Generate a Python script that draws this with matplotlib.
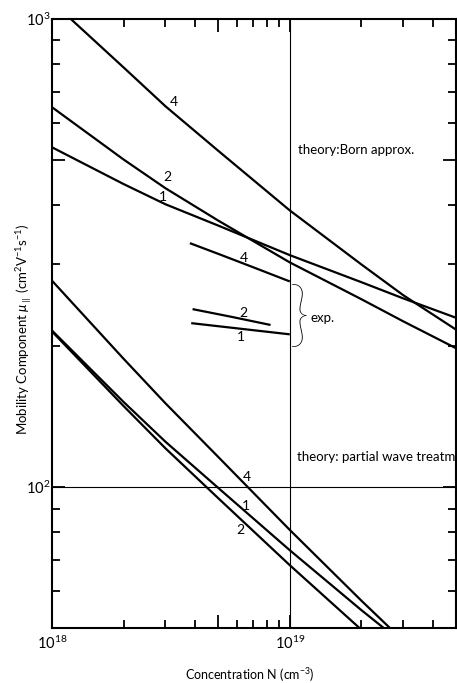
import matplotlib
matplotlib.use("Agg")
import matplotlib.pyplot as plt
from matplotlib.ticker import NullFormatter

plt.rcParams['font.family'] = ['Lato', 'DejaVu Sans']
plt.rcParams['mathtext.fontset'] = 'custom'
plt.rcParams['mathtext.rm'] = 'Lato'
plt.rcParams['mathtext.it'] = 'Lato:italic'

## theory: Born approximation (curves 4, 2, 1)
born4_n = [1.2e18, 2e18, 3e18, 5e18, 1e19, 2e19, 3e19, 5e19]
born4_mu = [1000, 788, 651, 523, 390, 299, 257, 217]
born2_n = [1e18, 2e18, 3e18, 5e18, 1e19, 2e19, 3e19, 5e19]
born2_mu = [648, 501, 435, 371, 302, 252, 226, 198]
born1_n = [1e18, 2e18, 3e18, 5e18, 1e19, 2e19, 3e19, 5e19]
born1_mu = [532, 444, 402, 362, 313, 274, 253, 230]

## experiment
exp4_n = [3.8e18, 5e18, 7e18, 1e19]
exp4_mu = [332, 315, 295, 275]
exp2_n = [3.9e18, 5.7e18, 8.3e18]
exp2_mu = [240, 231, 222]
exp1_n = [3.85e18, 1e19]
exp1_mu = [224, 212]

## theory: partial wave treatment
pw4_n = [1e18, 2e18, 3e18, 5e18, 1e19, 2e19, 2.67e19]
pw4_mu = [276, 188, 151, 116, 81, 57.2, 49.7]
pw1_n = [1e18, 2e18, 3e18, 5e18, 1e19, 2e19, 2.52e19]
pw1_mu = [216, 152, 125, 99.6, 73.3, 54.6, 49.7]
pw2_n = [1e18, 2e18, 3e18, 5e18, 1e19, 1.99e19]
pw2_mu = [215, 149, 121, 94.7, 68.1, 49.7]

# curve labels: (text, N, mu)
curve_labels = [('4', 3.24e18, 664), ('2', 3.06e18, 459), ('1', 2.94e18, 416),
                ('4', 6.39e18, 308), ('2', 6.37e18, 236), ('1', 6.21e18, 209),
                ('4', 6.63e18, 105), ('1', 6.57e18, 91), ('2', 6.17e18, 81)]

x_major = [1e18, 5e18, 1e19, 5e19]
x_major_labels = ['$10^{18}$', '', '$10^{19}$', '']
x_minor = [2e18, 3e18, 4e18, 6e18, 7e18, 8e18, 9e18, 2e19, 3e19, 4e19]
y_major = [100, 500, 1000]
y_major_labels = ['$10^{2}$', '', '$10^{3}$']
y_minor = [60, 70, 80, 90, 200, 300, 400, 600, 700, 800, 900]

fig = plt.figure(figsize=(4.57, 6.83), dpi=100)
ax = fig.add_axes([52/457, 55/683, 404/457, 609/683])

lw = 1.6
for n, mu in [(born4_n, born4_mu), (born2_n, born2_mu), (born1_n, born1_mu),
              (exp4_n, exp4_mu), (exp2_n, exp2_mu), (exp1_n, exp1_mu),
              (pw4_n, pw4_mu), (pw1_n, pw1_mu), (pw2_n, pw2_mu)]:
    ax.plot(n, mu, color='black', linewidth=lw, solid_capstyle='butt')

# thin reference lines
ax.axvline(1e19, color='black', linewidth=0.8)
ax.axhline(100, color='black', linewidth=0.8)

ax.set_xscale('log')
ax.set_yscale('log')
ax.set_xlim(1e18, 5e19)
ax.set_ylim(50, 1000)

for txt, n, mu in curve_labels:
    ax.text(n, mu, txt, fontsize=10, ha='center', va='center')

ax.text(1.08e19, 524, 'theory:Born approx.', fontsize=9.5, va='center', ha='left')
# runs into the right frame, cut there as in the original figure
ax.text(1.07e19, 116, 'theory: partial wave treatment', fontsize=9.5,
        va='center', ha='left', clip_on=True)
ax.text(1.226e19, 230, 'exp.', fontsize=9.5, va='center', ha='left')
ax.text(1.1e19, 229, '}', fontsize=52, fontweight='light', va='center', ha='center')

ax.set_xticks(x_major)
ax.set_xticklabels(x_major_labels)
ax.set_xticks(x_minor, minor=True)
ax.xaxis.set_minor_formatter(NullFormatter())
ax.set_yticks(y_major)
ax.set_yticklabels(y_major_labels)
ax.set_yticks(y_minor, minor=True)
ax.yaxis.set_minor_formatter(NullFormatter())

ax.tick_params(which='both', direction='in', top=True, right=True, width=1.3)
ax.tick_params(which='major', length=9.5, labelsize=10.5)
ax.tick_params(axis='x', which='major', pad=5)
ax.tick_params(axis='y', which='major', pad=1)
ax.tick_params(which='minor', length=6)
for s in ax.spines.values():
    s.set_linewidth(1.5)

ax.set_xlabel('Concentration N (cm$^{-3}$)', fontsize=9)
ax.set_ylabel(r'Mobility Component $\mu_{\parallel}$ (cm$^{2}$V$^{-1}$s$^{-1}$)',
              fontsize=9.5)
ax.xaxis.set_label_coords(0.49, -0.062)
ax.yaxis.set_label_coords(-0.045, 0.49)

fig.savefig('out.png', dpi=100)
